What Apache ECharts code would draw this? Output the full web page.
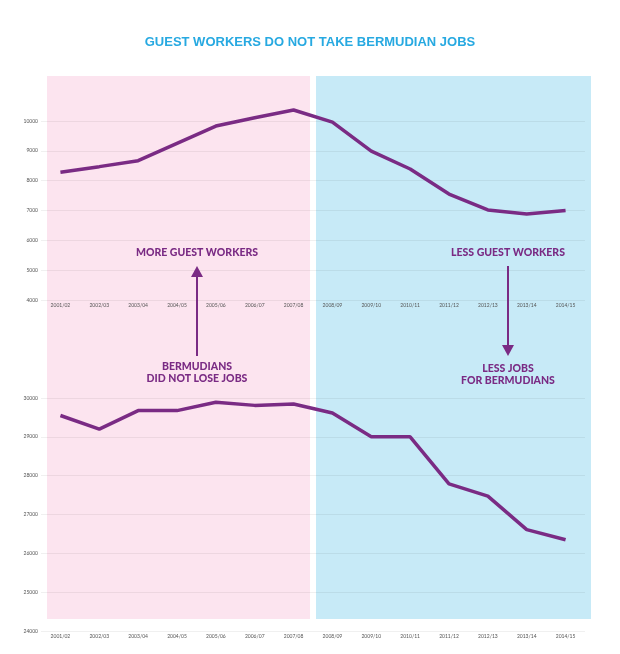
<!DOCTYPE html>
<html>
<head>
<meta charset="utf-8">
<script src="https://cdn.jsdelivr.net/npm/echarts@6/dist/echarts.min.js"></script>
<style>
html,body{margin:0;padding:0;background:#fff;}
#c{width:620px;height:654px;}
</style>
</head>
<body>
<div id="c"></div>
<script>
var categories = ['2001/02','2002/03','2003/04','2004/05','2005/06','2006/07','2007/08','2008/09','2009/10','2010/11','2011/12','2012/13','2013/14','2014/15'];
var guestWorkers = [8280, 8470, 8670, 9250, 9830, 10110, 10370, 9960, 8990, 8390, 7550, 7020, 6880, 7000];
var bermudianJobs = [29550, 29200, 29675, 29675, 29890, 29810, 29845, 29615, 29000, 29000, 27790, 27475, 26610, 26350];
var topTicks = {min: 4000, max: 10000, interval: 1000};
var bottomTicks = {min: 24000, max: 30000, interval: 1000};

var PURPLE = '#7a2b84';
var chart = echarts.init(document.getElementById('c'), null, {renderer: 'canvas'});

function xAxis(gridIndex) {
  return {
    type: 'category', gridIndex: gridIndex, data: categories, boundaryGap: true,
    axisLine: {show: false}, axisTick: {show: false},
    axisLabel: {fontSize: 5, color: '#555', margin: 3, fontFamily: 'Lato', interval: 0}
  };
}
function yAxis(gridIndex, t) {
  return {
    type: 'value', gridIndex: gridIndex, min: t.min, max: t.max, interval: t.interval,
    axisLine: {show: false}, axisTick: {show: false},
    axisLabel: {fontSize: 5, color: '#555', margin: 3, fontFamily: 'Lato',
                formatter: function (v) { return String(v); }},
    splitLine: {show: true, lineStyle: {color: 'rgba(0,0,0,0.06)', width: 1}}
  };
}

function annoText(x, y, txt) {
  return {type: 'text', x: x, y: y, z: 10,
    style: {text: txt, fill: PURPLE, font: '900 10.5px Lato', textAlign: 'center', textVerticalAlign: 'middle'}};
}

chart.setOption({
  animation: false,
  title: {
    text: 'GUEST WORKERS DO NOT TAKE BERMUDIAN JOBS', left: 'center', top: 31,
    textStyle: {fontSize: 13, fontWeight: 'bold', color: '#27a9e1', fontFamily: 'Liberation Sans'}
  },
  grid: [
    {left: 41, width: 544, top: 121, height: 179},
    {left: 41, width: 544, top: 398, height: 233}
  ],
  xAxis: [xAxis(0), xAxis(1)],
  yAxis: [yAxis(0, topTicks), yAxis(1, bottomTicks)],
  graphic: [
    {type: 'rect', z: -10, shape: {x: 47, y: 76, width: 263, height: 543}, style: {fill: '#fce4ef'}},
    {type: 'rect', z: -10, shape: {x: 316, y: 76, width: 275, height: 543}, style: {fill: '#c7eaf7'}},
    annoText(197, 253, 'MORE GUEST WORKERS'),
    {type: 'line', z: 10, shape: {x1: 197, y1: 356, x2: 197, y2: 274}, style: {stroke: PURPLE, lineWidth: 2}},
    {type: 'polygon', z: 10, shape: {points: [[197, 266], [191, 277], [203, 277]]}, style: {fill: PURPLE}},
    annoText(197, 367, 'BERMUDIANS'),
    annoText(197, 379, 'DID NOT LOSE JOBS'),
    annoText(508, 253, 'LESS GUEST WORKERS'),
    {type: 'line', z: 10, shape: {x1: 508, y1: 266, x2: 508, y2: 348}, style: {stroke: PURPLE, lineWidth: 2}},
    {type: 'polygon', z: 10, shape: {points: [[508, 356], [502, 345], [514, 345]]}, style: {fill: PURPLE}},
    annoText(508, 369, 'LESS JOBS'),
    annoText(508, 381, 'FOR BERMUDIANS')
  ],
  series: [
    {type: 'line', xAxisIndex: 0, yAxisIndex: 0, data: guestWorkers, clip: false,
     symbol: 'none', lineStyle: {color: PURPLE, width: 3.5}, itemStyle: {color: PURPLE}},
    {type: 'line', xAxisIndex: 1, yAxisIndex: 1, data: bermudianJobs, clip: false,
     symbol: 'none', lineStyle: {color: PURPLE, width: 3.5}, itemStyle: {color: PURPLE}}
  ]
});
</script>
</body>
</html>
